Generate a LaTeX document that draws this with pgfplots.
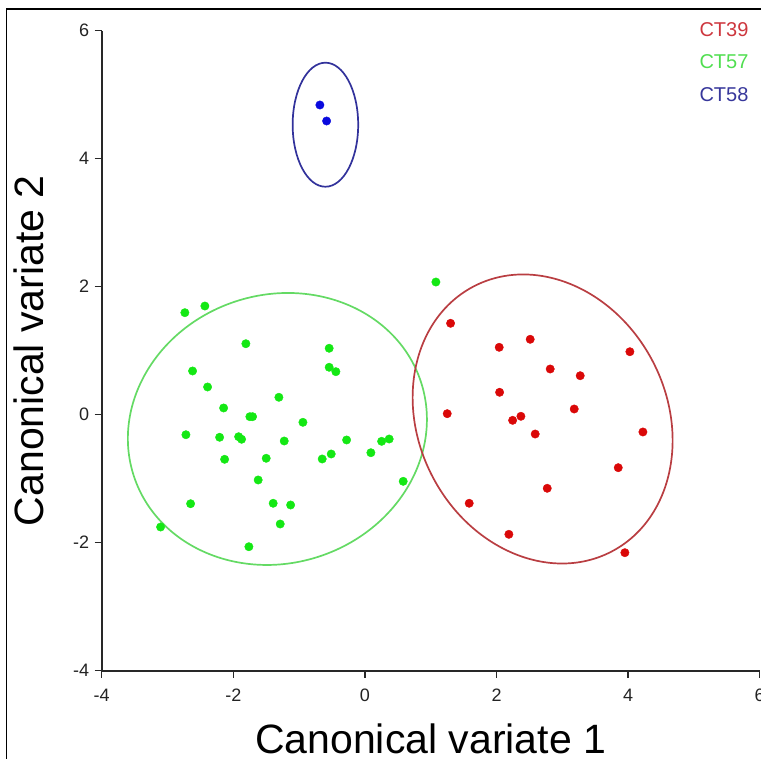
\documentclass[border=0pt]{standalone}
\usepackage{pgfplots}
\pgfplotsset{compat=1.18}
\usepackage{fontspec}
\setmainfont{Liberation Sans}
\definecolor{ptred}{RGB}{218,8,8}
\definecolor{ptgreen}{RGB}{20,232,20}
\definecolor{ptblue}{RGB}{10,10,222}
\definecolor{elred}{RGB}{185,62,66}
\definecolor{elgreen}{RGB}{100,218,100}
\definecolor{elblue}{RGB}{50,50,155}
\definecolor{lgred}{RGB}{205,55,62}
\definecolor{lggreen}{RGB}{80,222,80}
\definecolor{lgblue}{RGB}{55,55,155}
\definecolor{axisgray}{RGB}{40,40,40}
\definecolor{ticklab}{RGB}{35,35,35}

\pgfplotstableread{
x y
1.302 1.428
2.512 1.178
2.041 1.053
4.027 0.984
2.816 0.714
3.272 0.609
2.047 0.350
1.251 0.016
3.181 0.089
2.371 -0.025
2.245 -0.088
2.588 -0.302
4.225 -0.270
3.850 -0.828
2.771 -1.150
1.585 -1.384
2.188 -1.869
3.951 -2.156
}\ctthirtynine

\pgfplotstableread{
x y
-2.736 1.594
-2.432 1.698
-1.809 1.109
-0.543 1.038
-0.543 0.741
-0.441 0.672
-2.619 0.683
-2.391 0.433
-1.307 0.272
-2.147 0.105
-1.748 -0.031
-1.707 -0.031
-0.942 -0.119
-2.720 -0.313
-2.208 -0.353
-1.919 -0.344
-1.874 -0.384
-1.226 -0.411
-0.278 -0.395
0.254 -0.416
0.369 -0.380
-2.132 -0.697
-1.500 -0.681
-0.649 -0.692
-0.512 -0.614
0.091 -0.594
-1.622 -1.020
0.582 -1.041
-2.649 -1.391
-1.394 -1.384
-1.129 -1.411
-1.287 -1.708
-3.105 -1.755
-1.763 -2.063
1.079 2.073
}\ctfiftyseven

\pgfplotstableread{
x y
-0.684 4.839
-0.582 4.589
}\ctfiftyeight

\begin{document}
\begin{tikzpicture}
\useasboundingbox (0,0) rectangle (761pt,759pt);
\clip (0,0) rectangle (761pt,759pt);
\draw[line width=1.6pt, black] (6.5pt,-5pt) -- (6.5pt,749.7pt) -- (770pt,749.7pt);
\begin{axis}[
  scale only axis, width=658pt, height=640pt,
  at={(101.7pt,88.3pt)}, anchor=south west,
  xmin=-4, xmax=6, ymin=-4, ymax=6,
  axis lines*=left,
  axis line style={line width=1.8pt, color=axisgray},
  xtick={-4,-2,0,2,4,6}, ytick={-4,-2,0,2,4,6},
  tick align=outside, major tick length=7pt,
  tick style={line width=1.3pt, color=axisgray},
  /pgf/number format/assume math mode=true,
  ticklabel style={font=\fontsize{18}{18}\selectfont, text=ticklab},
  xticklabel style={yshift=-8pt},
  yticklabel style={xshift=-2pt},
  xlabel={Canonical variate 1}, ylabel={Canonical variate 2},
  label style={font=\fontsize{41}{41}\selectfont},
  xlabel style={at={(axis description cs:0.5,-0.1287)}, anchor=base},
  ylabel style={at={(axis description cs:-0.0877,0.5)}, anchor=base},
  clip=false,
]
\draw[elgreen, line width=1.7pt, rotate around={18.3:(axis cs:-1.330,-0.223)}] (axis cs:-1.330,-0.223) ellipse [x radius=2.296, y radius=2.097];
\draw[elred, line width=1.7pt, rotate around={-62.7:(axis cs:2.701,-0.067)}] (axis cs:2.701,-0.067) ellipse [x radius=2.271, y radius=1.942];
\draw[elblue, line width=1.7pt] (axis cs:-0.600,4.531) ellipse [x radius=0.498, y radius=0.969];
\addplot[only marks, mark=*, mark size=4.2pt, color=ptred] table[x=x,y=y] {\ctthirtynine};
\addplot[only marks, mark=*, mark size=4.2pt, color=ptgreen] table[x=x,y=y] {\ctfiftyseven};
\addplot[only marks, mark=*, mark size=4.2pt, color=ptblue] table[x=x,y=y] {\ctfiftyeight};
\node[text=lgred, font=\fontsize{20}{20}\selectfont] at (axis description cs:0.9457,1.0011) {CT39};
\node[text=lggreen, font=\fontsize{20}{20}\selectfont] at (axis description cs:0.9457,0.9511) {CT57};
\node[text=lgblue, font=\fontsize{20}{20}\selectfont] at (axis description cs:0.9457,0.8995) {CT58};
\end{axis}
\end{tikzpicture}
\end{document}
